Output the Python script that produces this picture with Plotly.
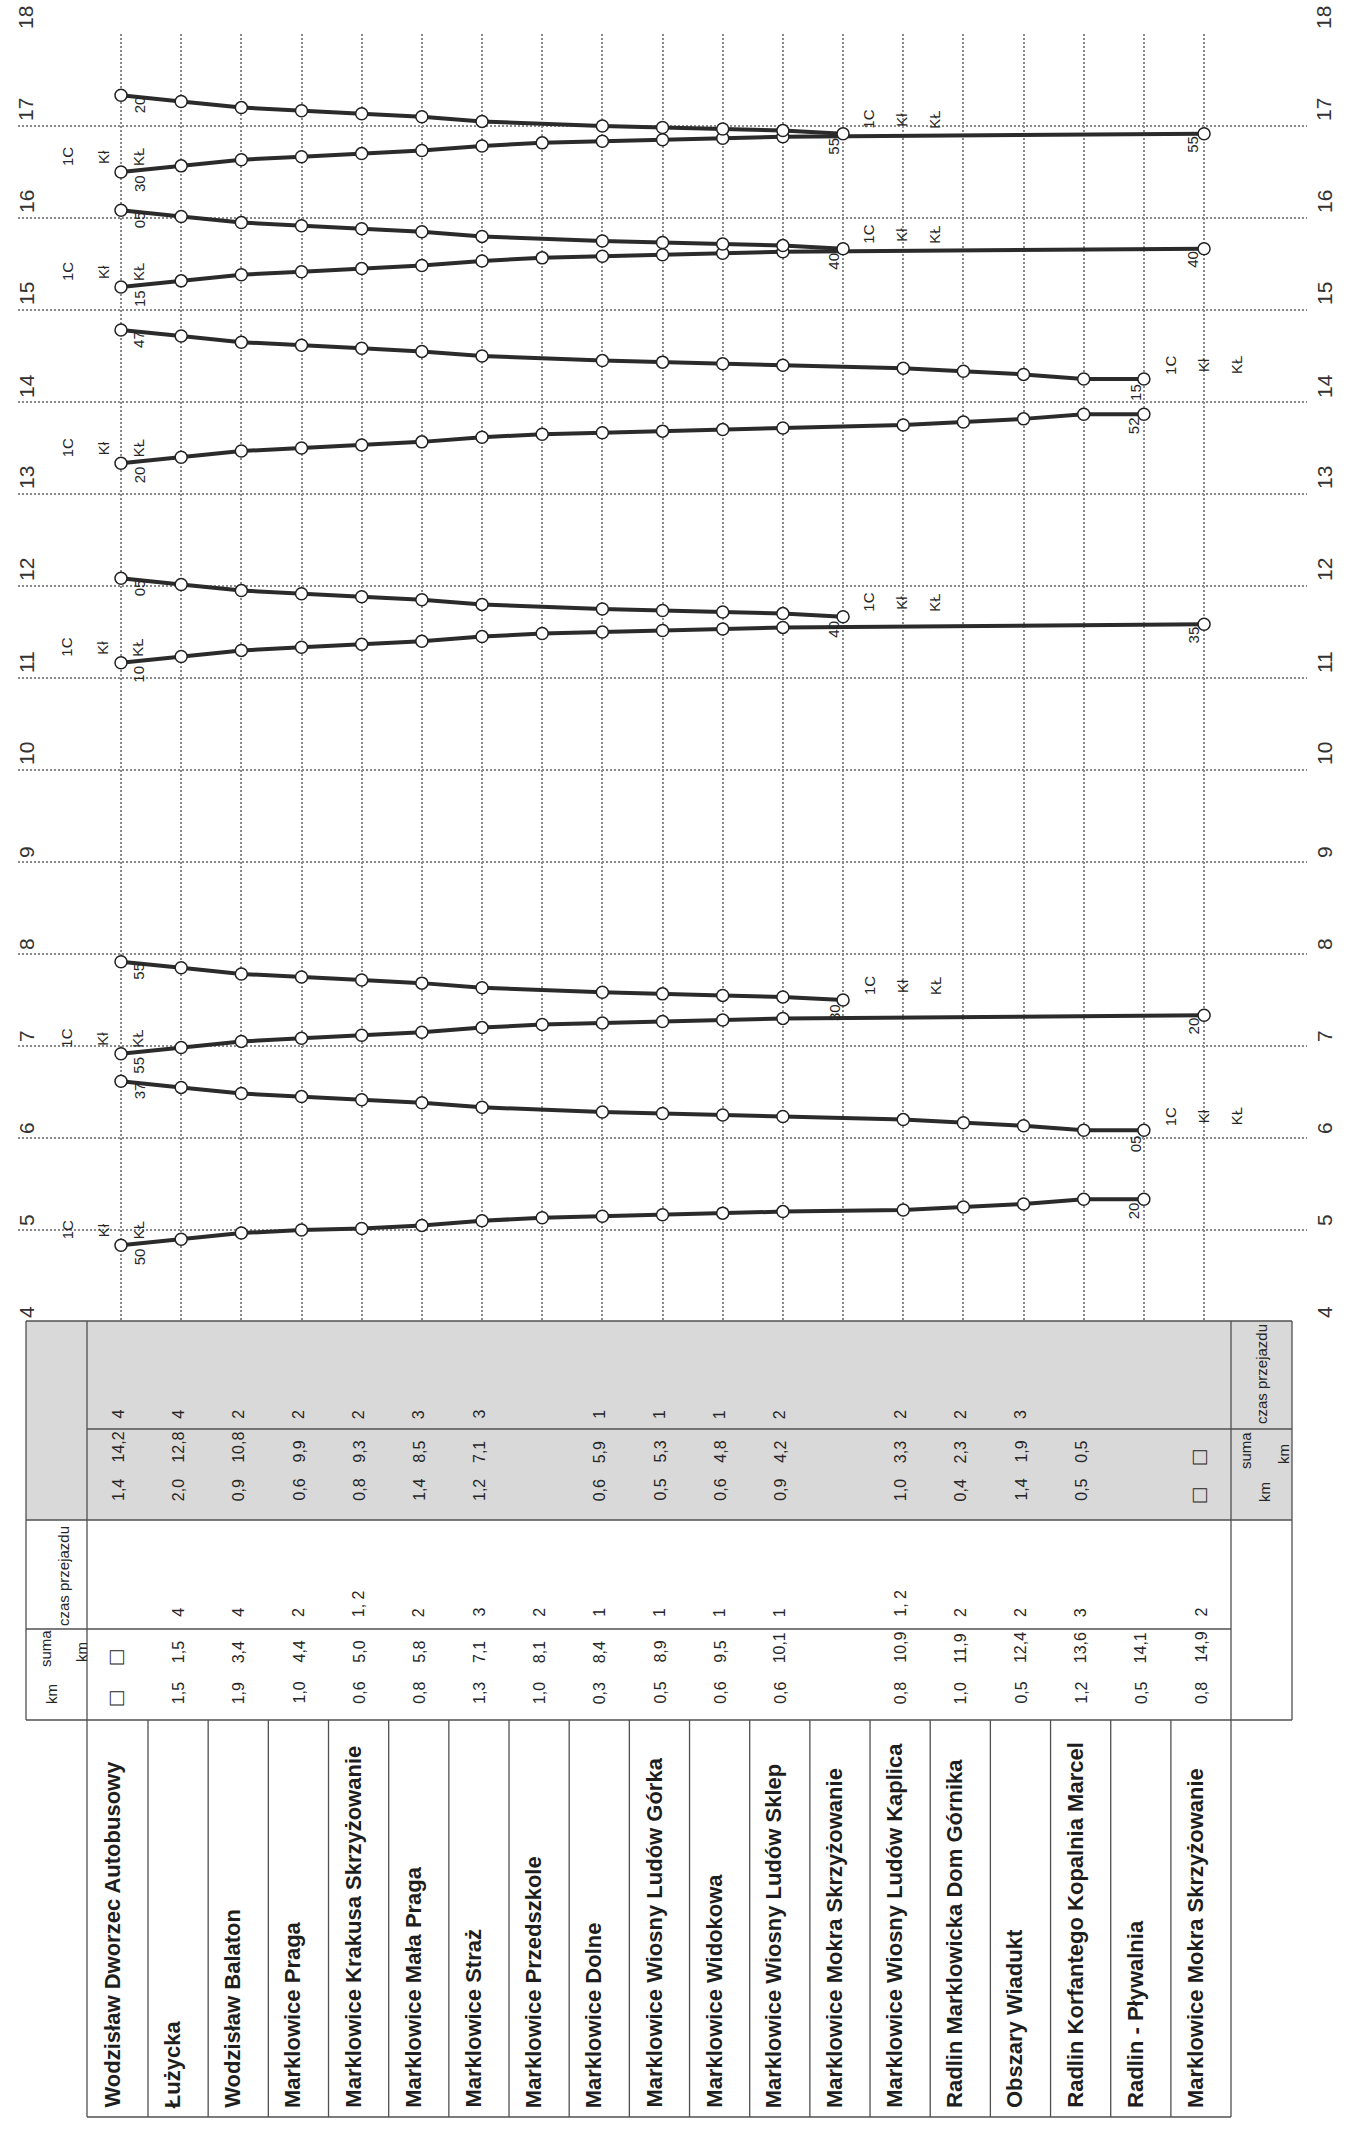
import plotly.graph_objects as go

W, H = 1345, 2134

# ---------------- data ----------------
STOP_NAMES = [
    "Wodzisław Dworzec Autobusowy", "Łużycka", "Wodzisław Balaton", "Marklowice Praga",
    "Marklowice Krakusa Skrzyżowanie", "Marklowice Mała Praga", "Marklowice Straż",
    "Marklowice Przedszkole", "Marklowice Dolne", "Marklowice Wiosny Ludów Górka",
    "Marklowice Widokowa", "Marklowice Wiosny Ludów Sklep", "Marklowice Mokra Skrzyżowanie",
    "Marklowice Wiosny Ludów Kaplica", "Radlin Marklowicka Dom Górnika", "Obszary Wiadukt",
    "Radlin Korfantego Kopalnia Marcel", "Radlin - Pływalnia", "Marklowice Mokra Skrzyżowanie",
]
STOP_IDX = list(range(1, 20))
HOURS = list(range(4, 19))

# stop sequences (column index of each stop)
SEQ_OUT_LONG = [1, 2, 3, 4, 5, 6, 7, 8, 9, 10, 11, 12, 14, 15, 16, 17, 18]
SEQ_OUT_SHORT = [1, 2, 3, 4, 5, 6, 7, 8, 9, 10, 11, 12, 19]
SEQ_RET_LONG = [18, 17, 16, 15, 14, 12, 11, 10, 9, 7, 6, 5, 4, 3, 2, 1]
SEQ_RET_SHORT = [13, 12, 11, 10, 9, 7, 6, 5, 4, 3, 2, 1]

# outbound trips
out_0450 = ["4:50", "4:54", "4:58", "5:00", "5:01", "5:03", "5:06", "5:08", "5:09", "5:10", "5:11", "5:12",
            "5:13", "5:15", "5:17", "5:20", "5:20"]
out_0655 = ["6:55", "6:59", "7:03", "7:05", "7:07", "7:09", "7:12", "7:14", "7:15", "7:16", "7:17", "7:18", "7:20"]
out_1110 = ["11:10", "11:14", "11:18", "11:20", "11:22", "11:24", "11:27", "11:29", "11:30", "11:31", "11:32",
            "11:33", "11:35"]
out_1320 = ["13:20", "13:24", "13:28", "13:30", "13:32", "13:34", "13:37", "13:39", "13:40", "13:41", "13:42",
            "13:43", "13:45", "13:47", "13:49", "13:52", "13:52"]
out_1515 = ["15:15", "15:19", "15:23", "15:25", "15:27", "15:29", "15:32", "15:34", "15:35", "15:36", "15:37",
            "15:38", "15:40"]
out_1630 = ["16:30", "16:34", "16:38", "16:40", "16:42", "16:44", "16:47", "16:49", "16:50", "16:51", "16:52",
            "16:53", "16:55"]

# return trips
ret_0605 = ["6:05", "6:05", "6:08", "6:10", "6:12", "6:14", "6:15", "6:16", "6:17", "6:20", "6:23", "6:25",
            "6:27", "6:29", "6:33", "6:37"]
ret_0730 = ["7:30", "7:32", "7:33", "7:34", "7:35", "7:38", "7:41", "7:43", "7:45", "7:47", "7:51", "7:55"]
ret_1140 = ["11:40", "11:42", "11:43", "11:44", "11:45", "11:48", "11:51", "11:53", "11:55", "11:57", "12:01",
            "12:05"]
ret_1415 = ["14:15", "14:15", "14:18", "14:20", "14:22", "14:24", "14:25", "14:26", "14:27", "14:30", "14:33",
            "14:35", "14:37", "14:39", "14:43", "14:47"]
ret_1540 = ["15:40", "15:42", "15:43", "15:44", "15:45", "15:48", "15:51", "15:53", "15:55", "15:57", "16:01",
            "16:05"]
ret_1655 = ["16:55", "16:57", "16:58", "16:59", "17:00", "17:03", "17:06", "17:08", "17:10", "17:12", "17:16",
            "17:20"]

TRIP_LABELS = ["1C", "Kł", "KŁ"]

# table: outbound (white)
out_km = ["□", "1,5", "1,9", "1,0", "0,6", "0,8", "1,3", "1,0", "0,3", "0,5", "0,6", "0,6", "",
          "0,8", "1,0", "0,5", "1,2", "0,5", "0,8"]
out_sum = ["□", "1,5", "3,4", "4,4", "5,0", "5,8", "7,1", "8,1", "8,4", "8,9", "9,5", "10,1", "",
           "10,9", "11,9", "12,4", "13,6", "14,1", "14,9"]
out_czas = ["", "4", "4", "2", "1, 2", "2", "3", "2", "1", "1", "1", "1", "",
            "1, 2", "2", "2", "3", "", "2"]
# table: return (gray)
ret_km = ["1,4", "2,0", "0,9", "0,6", "0,8", "1,4", "1,2", "", "0,6", "0,5", "0,6", "0,9", "",
          "1,0", "0,4", "1,4", "0,5", "", "□"]
ret_sum = ["14,2", "12,8", "10,8", "9,9", "9,3", "8,5", "7,1", "", "5,9", "5,3", "4,8", "4,2", "",
           "3,3", "2,3", "1,9", "0,5", "", "□"]
ret_czas = ["4", "4", "2", "2", "2", "3", "3", "", "1", "1", "1", "2", "",
            "2", "2", "3", "", "", ""]

# ---------------- helpers / style ----------------
FONT = "Liberation Sans, Arial, Helvetica, sans-serif"
INK = "#262626"
LINE_C = "#2b2b2b"
GRID_C = "#8a8a8a"
TABLE_LINE = "#505050"
GRAY_FILL = "#d9d9d9"


def to_h(s):
    h, m = s.split(":")
    return int(h) + int(m) / 60.0


def mins(s):
    return s.split(":")[1]


def pxx(x):
    return x / W


def pxy(y):
    return 1 - y / H


# geometry of the graph area (pixels)
X1_PX, X_STEP = 121.0, 60.17
PLOT_L, PLOT_R = 18.0, 1307.0
PLOT_T, PLOT_B = 34.0, 1322.0
x_range = [1 + (PLOT_L - X1_PX) / X_STEP, 1 + (PLOT_R - X1_PX) / X_STEP]

fig = go.Figure()

outbound = [(SEQ_OUT_LONG, out_0450), (SEQ_OUT_SHORT, out_0655), (SEQ_OUT_SHORT, out_1110),
            (SEQ_OUT_LONG, out_1320), (SEQ_OUT_SHORT, out_1515), (SEQ_OUT_SHORT, out_1630)]
inbound = [(SEQ_RET_LONG, ret_0605), (SEQ_RET_SHORT, ret_0730), (SEQ_RET_SHORT, ret_1140),
           (SEQ_RET_LONG, ret_1415), (SEQ_RET_SHORT, ret_1540), (SEQ_RET_SHORT, ret_1655)]

annotations = []


def add_ann(text, x, y, xshift=0, yshift=0, size=16, xref="x", yref="y", xanchor="center",
            yanchor="middle", weight="normal", color=INK, angle=-90):
    annotations.append(dict(text=text, x=x, y=y, xref=xref, yref=yref, xshift=xshift, yshift=yshift,
                            showarrow=False, textangle=angle, xanchor=xanchor, yanchor=yanchor,
                            font=dict(family=FONT, size=size, color=color, weight=weight)))


for seq, times in outbound + inbound:
    fig.add_trace(go.Scatter(
        x=seq, y=[to_h(t) for t in times], mode="lines+markers",
        line=dict(color=LINE_C, width=4),
        marker=dict(size=12, color="white", line=dict(color="#222222", width=1.5)),
        hoverinfo="skip", showlegend=False))

for seq, times in outbound:
    for lab, dx in zip(TRIP_LABELS, [-54, -18, 17]):
        add_ann(lab, seq[0], to_h(times[0]), xshift=dx, yshift=15, size=15)
    add_ann(mins(times[0]), seq[0], to_h(times[0]), xshift=18, yshift=-12, size=15)
    add_ann(mins(times[-1]), seq[-1], to_h(times[-1]), xshift=-11, yshift=-11, size=15)

for seq, times in inbound:
    for lab, dx in zip(TRIP_LABELS, [26, 59, 92]):
        add_ann(lab, seq[0], to_h(times[0]), xshift=dx, yshift=14, size=15)
    add_ann(mins(times[0]), seq[0], to_h(times[0]), xshift=-9, yshift=-13, size=15)
    add_ann(mins(times[-1]), seq[-1], to_h(times[-1]), xshift=18, yshift=-10, size=15)

# hour labels on both sides
for h in HOURS:
    ys = 10 if h < 10 else 16
    add_ann(str(h), pxx(26), h, xref="paper", yshift=ys, size=21, color="#333333")
    add_ann(str(h), pxx(1324), h, xref="paper", yshift=ys, size=21, color="#333333")

# ---------------- table ----------------
shapes = []


def rect(x0, y0, x1, y1, fill=None, lw=0):
    shapes.append(dict(type="rect", xref="paper", yref="paper", x0=pxx(x0), x1=pxx(x1),
                       y0=pxy(y1), y1=pxy(y0), fillcolor=fill or "rgba(0,0,0,0)",
                       line=dict(width=lw, color=TABLE_LINE), layer="below"))


def seg(x0, y0, x1, y1, lw=1.3):
    shapes.append(dict(type="line", xref="paper", yref="paper", x0=pxx(x0), x1=pxx(x1),
                       y0=pxy(y0), y1=pxy(y1), line=dict(width=lw, color=TABLE_LINE)))


T_L, T_HL, T_HR, T_R = 26, 87, 1231, 1292
T_TOP, T_GDIV, T_MID, T_WDIV, T_BOT, N_BOT = 1321, 1429, 1520, 1629, 1720, 2117

rect(T_L, T_TOP, T_R, T_MID, fill=GRAY_FILL)
seg(T_L, T_TOP, T_R, T_TOP)
seg(T_L, T_TOP, T_L, T_BOT)
seg(T_R, T_TOP, T_R, T_BOT)
seg(T_L, T_BOT, T_R, T_BOT)
seg(T_L, T_MID, T_R, T_MID)
seg(T_HL, T_GDIV, T_R, T_GDIV)
seg(T_L, T_WDIV, T_HR, T_WDIV)
seg(T_HL, T_TOP, T_HL, N_BOT)
seg(T_HR, T_TOP, T_HR, N_BOT)
seg(T_HL, N_BOT, T_HR, N_BOT)
for k in STOP_IDX[:-1]:
    xd = X1_PX + (k - 1) * X_STEP + 27
    seg(xd, T_BOT, xd, N_BOT)

# table values
rows = [(out_czas, 1619), (out_sum, 1665), (out_km, 1706),
        (ret_czas, 1421), (ret_sum, 1465), (ret_km, 1503)]
for vals, ybot in rows:
    for k, v in zip(STOP_IDX, vals):
        if not v:
            continue
        if v == "□":
            add_ann(v, k, pxy(ybot + 2), xshift=-6, yref="paper", yanchor="bottom", size=24)
        else:
            add_ann(v, k, pxy(ybot), xshift=-3, yref="paper", yanchor="bottom", size=16)

# stop names
for k, name in zip(STOP_IDX, STOP_NAMES):
    add_ann(name, k, pxy(2110), xshift=-9, yref="paper", yanchor="bottom", size=22, weight="bold",
            color="#1e1e1e")

# header captions
hdr = [("czas przejazdu", 63, 1576), ("suma", 45, 1648), ("km", 81, 1652), ("km", 51, 1694),
       ("czas przejazdu", 1261, 1374), ("suma", 1245, 1451), ("km", 1283, 1454), ("km", 1264, 1492)]
for txt, hx, hy in hdr:
    add_ann(txt, pxx(hx), pxy(hy), xref="paper", yref="paper", size=15)

fig.update_layout(
    width=W, height=H, margin=dict(l=0, r=0, t=0, b=0),
    paper_bgcolor="white", plot_bgcolor="rgba(0,0,0,0)", showlegend=False,
    xaxis=dict(domain=[pxx(PLOT_L), pxx(PLOT_R)], range=x_range, tickvals=STOP_IDX,
               showticklabels=False, ticks="", showgrid=True, gridcolor=GRID_C, gridwidth=1.5,
               griddash="2px,2px", zeroline=False, showline=False, fixedrange=True),
    yaxis=dict(domain=[pxy(PLOT_B), pxy(PLOT_T)], range=[4, 18], tickvals=HOURS,
               showticklabels=False, ticks="", showgrid=True, gridcolor=GRID_C, gridwidth=1.5,
               griddash="2px,2px", zeroline=False, showline=False, fixedrange=True),
    annotations=annotations, shapes=shapes,
)

fig.write_html("out.html", config={"displayModeBar": False},
               post_script="document.body.style.margin='0';")
